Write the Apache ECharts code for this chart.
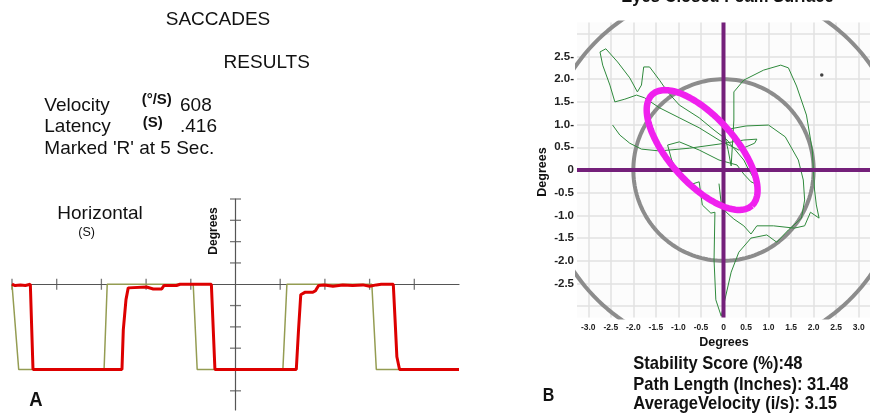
<!DOCTYPE html>
<html><head><meta charset="utf-8">
<script src="https://cdn.jsdelivr.net/npm/echarts@6/dist/echarts.min.js"></script>
<style>html,body{margin:0;padding:0;background:#fff}#c{width:870px;height:419px}</style>
</head><body><div id="c"></div>
<script>
// ---------- Panel A: saccade traces (time in s, position in degree ticks) ----------
const targetX = [-5.0, -4.96, -4.85, -2.94, -2.87, -0.946, -0.857, 1.06, 1.15, 3.05, 3.15, 5.0];
const targetY = [0, 0, -4, -4, 0, 0, -4, -4, 0, 0, -4, -4];
const responseX = [-5.0, -4.93, -4.81, -4.70, -4.59, -4.57, -4.53, -2.54, -2.51, -2.45, -2.40, -2.36, -1.99, -1.84, -1.65, -1.60, -1.32, -1.24, -0.54, -0.46, 1.36, 1.41, 1.46, 1.55, 1.73, 1.79, 1.86, 1.99, 2.18, 2.40, 2.62, 2.85, 3.00, 3.15, 3.26, 3.53, 3.57, 3.61, 3.67, 5.0];
const responseY = [0, -0.06, -0.03, -0.06, 0, 0, -4, -4, -2.14, -0.72, -0.17, -0.13, -0.13, -0.22, -0.22, -0.06, -0.06, 0, 0, -4, -4, -2.14, -0.49, -0.38, -0.38, -0.30, -0.06, -0.03, -0.09, -0.03, -0.06, -0.03, -0.09, -0.03, 0, 0, -1.67, -3.4, -4, -4];
const timeTicks = [-5, -4, -3, -2, -1, 1, 2, 3, 4];
const degreeTicks = [4, 3, 2, 1, -1, -2, -3, -4, -5];

// ---------- Panel B: postural sway (degrees) ----------
const swayX = [-2.46,-2.30,-2.08,-1.82,-1.42,-0.76,-0.10,0.45,0.74,0.69,0.34,-0.10,-0.54,-0.98,-1.42,-1.75,-1.93,-2.19,-2.41,-2.52,-2.68,-2.74,-2.61,-2.35,-2.08,-1.91,-1.82,-1.77,-1.64,-1.42,-1.24,-0.98,-0.54,-0.21,0.08,0.23,0.45,0.56,0.67,0.72,0.61,0.45,0.30,-0.10,-0.54,-0.98,-1.24,-1.15,-0.98,-0.76,-0.54,-0.50,-0.47,-0.28,-0.19,-0.21,-0.17,-0.05,0.03,0.17,0.34,0.61,0.96,1.18,1.44,1.73,1.80,1.77,1.66,1.37,1.00,0.50,0.00,0.10,0.17,0.23,0.23,0.45,0.89,1.27,1.44,1.62,1.84,1.97,2.02,2.06,2.12,1.93,1.80,1.57,1.11,0.74,0.61,0.45,0.23,0.06,-0.05,-0.10];
const swayY = [0.99,0.77,0.59,0.46,0.42,0.48,0.57,0.66,0.68,0.59,0.44,0.66,0.93,1.15,1.37,1.59,1.65,1.56,1.50,1.87,2.31,2.60,2.67,2.38,2.03,1.72,1.87,2.27,2.27,1.98,1.72,1.43,1.15,0.88,0.66,0.48,0.22,0.00,-0.18,-0.31,-0.26,-0.09,0.11,0.22,0.44,0.62,0.55,0.22,-0.11,-0.33,-0.26,-0.22,-0.77,-0.95,-0.93,-1.98,-2.86,-3.22,-2.86,-2.25,-1.81,-1.50,-1.43,-1.59,-1.32,-1.06,-0.66,-0.22,0.22,0.73,0.99,0.97,0.88,0.45,0.09,1.10,1.72,1.98,2.20,2.31,2.25,1.85,1.21,0.44,-0.44,-0.77,-1.06,-0.93,-1.23,-1.28,-1.23,-1.23,-1.41,-1.23,-1.08,-0.93,-0.75,-0.30];
const strayDot = [2.18, 2.09];
const circleRadii = [2, 4];
const ellipseCenter = [-0.474, 0.44];
const ellipseAxes = [1.65, 0.73];
const ellipseAngleDeg = -48;
const gridValuesB = [-3, -2.5, -2, -1.5, -1, -0.5, 0, 0.5, 1, 1.5, 2, 2.5, 3];
const xLabelValuesB = [-3, -2.5, -2, -1.5, -1, -0.5, 0, 0.5, 1, 1.5, 2, 2.5, 3];
const yLabelValuesB = [2.5, 2, 1.5, 1, 0.5, 0, -0.5, -1, -1.5, -2, -2.5];

const zip = (a, b) => a.map((v, i) => [v, b[i]]);
const FF = '"Liberation Sans", Arial, sans-serif';

function circlePts(r) {
  const p = [];
  for (let a = 0; a <= 360; a += 2) { const t = a * Math.PI / 180; p.push([r * Math.cos(t), r * Math.sin(t)]); }
  return p;
}
function ellipsePts() {
  const p = [], ang = ellipseAngleDeg * Math.PI / 180;
  for (let a = 0; a <= 360; a += 3) {
    const t = a * Math.PI / 180, u = ellipseAxes[0] * Math.cos(t), v = ellipseAxes[1] * Math.sin(t);
    p.push([ellipseCenter[0] + u * Math.cos(ang) - v * Math.sin(ang), ellipseCenter[1] + u * Math.sin(ang) + v * Math.cos(ang)]);
  }
  return p;
}

function txt(x, y, text, size, weight, opt) {
  opt = opt || {};
  const align = opt.align || 'left';
  return {
    type: 'text', x: x, y: y, rotation: opt.rotation || 0, scaleX: opt.sx || 1, scaleY: 1, z: 100,
    style: { text: text, fill: '#111', font: (weight || 'normal') + ' ' + size + 'px ' + FF,
      textAlign: align, align: align, textVerticalAlign: 'middle', verticalAlign: 'middle' }
  };
}

const chart = echarts.init(document.getElementById('c'), null, { renderer: 'canvas' });
const option = {
  animation: false,
  backgroundColor: '#ffffff',
  grid: [
    { left: 12, right: 411, top: 199, bottom: 9 },
    { left: 577, right: -2, top: 22.45, bottom: 101.45, show: true, backgroundColor: '#fcfcfc', borderWidth: 0 }
  ],
  xAxis: [
    { gridIndex: 0, type: 'value', min: -5, max: 5,
      axisLine: { show: true, onZero: true, lineStyle: { color: '#555', width: 1.2 } },
      axisTick: { show: false }, axisLabel: { show: false }, splitLine: { show: false } },
    { gridIndex: 1, type: 'value', min: -3.25, max: 3.25,
      axisLine: { show: false },
      axisTick: { show: false, customValues: gridValuesB },
      axisLabel: { customValues: xLabelValuesB, margin: 6, fontSize: 8.5, fontWeight: 'bold', fontFamily: FF, color: '#222',
        formatter: v => v === 0 ? '0' : v.toFixed(1) },
      splitLine: { show: true, lineStyle: { color: '#e2e2e2', width: 1.5 } } }
  ],
  yAxis: [
    { gridIndex: 0, type: 'value', min: -5.9, max: 4,
      axisLine: { show: true, onZero: true, lineStyle: { color: '#555', width: 1.2 } },
      axisTick: { show: false }, axisLabel: { show: false }, splitLine: { show: false } },
    { gridIndex: 1, type: 'value', min: -3.25, max: 3.25,
      axisLine: { show: false },
      axisTick: { show: false, customValues: gridValuesB },
      axisLabel: { customValues: yLabelValuesB, margin: 3, fontSize: 11.5, fontWeight: 'bold', fontFamily: FF, color: '#222',
        formatter: v => v > 0 ? v.toFixed(1) + '-' : (v === 0 ? '0' : v.toFixed(1)) },
      splitLine: { show: true, lineStyle: { color: '#e2e2e2', width: 1.5 } } }
  ],
  series: [
    { type: 'scatter', xAxisIndex: 0, yAxisIndex: 0, symbol: 'rect', symbolSize: [1.3, 11], silent: true,
      itemStyle: { color: '#555' }, data: timeTicks.map(v => [v, 0]), z: 1 },
    { type: 'scatter', xAxisIndex: 0, yAxisIndex: 0, symbol: 'rect', symbolSize: [11, 1.3], silent: true,
      itemStyle: { color: '#555' }, data: degreeTicks.map(v => [0, v]), z: 1 },
    { type: 'line', xAxisIndex: 0, yAxisIndex: 0, data: zip(targetX, targetY), showSymbol: false, symbol: 'none',
      lineStyle: { color: '#949c52', width: 1.5 }, z: 2 },
    { type: 'line', xAxisIndex: 0, yAxisIndex: 0, data: zip(responseX, responseY), showSymbol: false, symbol: 'none',
      lineStyle: { color: '#dd0000', width: 3 }, z: 3 },

    ...circleRadii.map(r => ({ type: 'line', xAxisIndex: 1, yAxisIndex: 1, data: circlePts(r), showSymbol: false, symbol: 'none',
      clip: true, lineStyle: { color: '#8c8c8c', width: 4 }, z: 2 })),
    { type: 'line', xAxisIndex: 1, yAxisIndex: 1, data: zip(swayX, swayY), showSymbol: false, symbol: 'none', clip: true,
      lineStyle: { color: '#2f8a3c', width: 1 }, z: 3 },
    { type: 'line', xAxisIndex: 1, yAxisIndex: 1, data: [[-3.25, 0], [3.25, 0]], showSymbol: false, symbol: 'none',
      lineStyle: { color: '#74207a', width: 4 }, z: 4 },
    { type: 'line', xAxisIndex: 1, yAxisIndex: 1, data: [[0, 3.25], [0, -3.25]], showSymbol: false, symbol: 'none',
      lineStyle: { color: '#74207a', width: 4 }, z: 4 },
    { type: 'line', xAxisIndex: 1, yAxisIndex: 1, data: ellipsePts(), showSymbol: false, symbol: 'none', clip: true,
      lineStyle: { color: '#f020ee', width: 6.5 }, z: 5 },
    { type: 'scatter', xAxisIndex: 1, yAxisIndex: 1, data: [strayDot], symbolSize: 3.5, itemStyle: { color: '#111' }, z: 5 }
  ],
  graphic: [
    txt(218, 20, 'SACCADES', 19, 'normal', { align: 'center' }),
    txt(266.7, 62.7, 'RESULTS', 19, 'normal', { align: 'center' }),
    txt(44.3, 106, 'Velocity', 19),
    txt(141.7, 100, '(°/S)', 15, 'bold'),
    txt(180, 106, '608', 19),
    txt(44.3, 126.7, 'Latency', 19),
    txt(142.7, 123.3, '(S)', 15, 'bold'),
    txt(180, 126.7, '.416', 19),
    txt(44.3, 148.3, "Marked 'R' at 5 Sec.", 19),
    txt(57.3, 213.3, 'Horizontal', 19),
    txt(78.3, 232.7, '(S)', 12.5),
    txt(214, 231, 'Degrees', 12, 'bold', { align: 'center', rotation: Math.PI / 2 }),
    txt(29.3, 400.7, 'A', 21, 'bold', { sx: 0.88 }),

    txt(727.5, -2.7, 'Eyes Closed Foam Surface', 18.6, 'bold', { align: 'center', sx: 0.89 }),
    txt(543, 172, 'Degrees', 12.5, 'bold', { align: 'center', rotation: Math.PI / 2 }),
    txt(724, 343, 'Degrees', 12.5, 'bold', { align: 'center' }),
    txt(633.3, 364, 'Stability Score (%):48', 18.6, 'bold', { sx: 0.89 }),
    txt(633.3, 385, 'Path Length (Inches): 31.48', 18.6, 'bold', { sx: 0.89 }),
    txt(633.3, 404, 'AverageVelocity (i/s): 3.15', 18.6, 'bold', { sx: 0.89 }),
    txt(542.7, 395.8, 'B', 18, 'bold', { sx: 0.89 })
  ]
};
chart.setOption(option);
</script></body></html>
